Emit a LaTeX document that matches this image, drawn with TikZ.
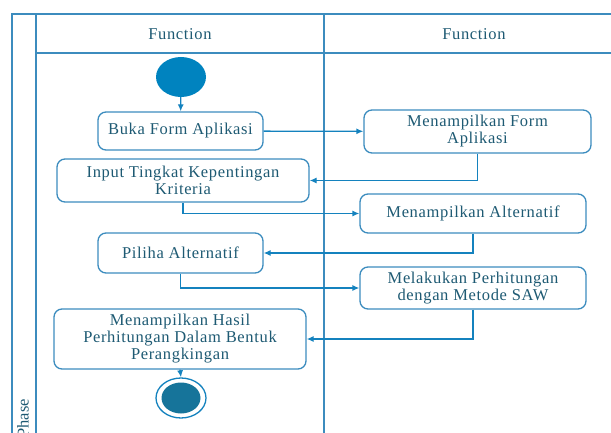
\documentclass[tikz,border=0pt]{standalone}
\usepackage{fontspec}
\setmainfont{Liberation Serif}
\newfontfamily\spaced[LetterSpace=4]{Liberation Serif}
\usetikzlibrary{arrows.meta,shapes.geometric}
\definecolor{frame}{RGB}{60,140,190}
\definecolor{wire}{RGB}{20,130,190}
\definecolor{txt}{RGB}{30,90,115}
\definecolor{startfill}{RGB}{0,131,191}
\definecolor{endfill}{RGB}{22,116,154}
\tikzset{
  lane/.style={draw=frame, line width=1.8pt},
  actbox/.style={draw=frame, line width=1.3pt, rounded corners=8pt, align=center,
    text=txt, font=\spaced\fontsize{16.5}{17}\selectfont, inner sep=2pt},
  wirearrow/.style={draw=wire, line width=1.3pt, -{Latex[length=7pt,width=6pt]}},
  hdr/.style={text=txt, font=\spaced\fontsize{16.5}{17}\selectfont},
}
\begin{document}
\begin{tikzpicture}[x=1pt,y=-1pt]
\useasboundingbox (0,0) rectangle (611,433);
% swimlane frame
\draw[lane] (12,433) -- (12,14) -- (611,14);
\draw[lane] (36,14) -- (36,433);
\draw[lane] (324,14) -- (324,433);
\draw[lane] (36,53) -- (611,53);
\node[hdr] (h1) at (180,34) {Function};
\node[hdr] (h2) at (474,34) {Function};
\node[text=txt, font=\fontsize{16.5}{17}\selectfont, rotate=90, anchor=east, inner sep=0pt] (phase) at (23,399) {Phase};
% start / end
\node[ellipse, fill=startfill, minimum width=50pt, minimum height=40pt, inner sep=0pt] (start) at (181,77) {};
\node[ellipse, draw=wire, line width=1.3pt, fill=white, minimum width=50pt, minimum height=40pt, inner sep=0pt] (end) at (181,398) {};
\node[ellipse, fill=endfill, minimum width=39pt, minimum height=31pt, inner sep=0pt] (endin) at (181,398) {};
% activities
\node[actbox, minimum width=165pt, minimum height=38pt] (buka) at (180.5,131) {Buka Form Aplikasi};
\node[actbox, minimum width=227pt, minimum height=43pt] (mform) at (477.5,131.5) {Menampilkan Form\\Aplikasi};
\node[actbox, minimum width=252pt, minimum height=43pt] (input) at (183,180.5) {Input Tingkat Kepentingan\\Kriteria};
\node[actbox, minimum width=226pt, minimum height=39pt] (malt) at (473,213.5) {Menampilkan Alternatif};
\node[actbox, minimum width=165pt, minimum height=40pt] (piliha) at (180.5,253) {Piliha Alternatif};
\node[actbox, minimum width=226pt, minimum height=42pt] (melak) at (473,288) {Melakukan Perhitungan\\dengan Metode SAW};
\node[actbox, minimum width=252pt, minimum height=60pt] (hasil) at (180,339) {Menampilkan Hasil\\Perhitungan Dalam Bentuk\\Perangkingan};
% connectors
\draw[wirearrow] (start) -- (buka);
\draw[wirearrow] (buka) -- (mform);
\draw[wirearrow] (mform.south) |- (input.east);
\draw[wirearrow] (input.south) |- (malt.west);
\draw[wirearrow] (malt.south) |- (piliha.east);
\draw[wirearrow] (piliha.south) |- (melak.west);
\draw[wirearrow] (melak.south) |- (hasil.east);
\draw[wirearrow] (hasil.south) -- (end.north);
\end{tikzpicture}
\end{document}
